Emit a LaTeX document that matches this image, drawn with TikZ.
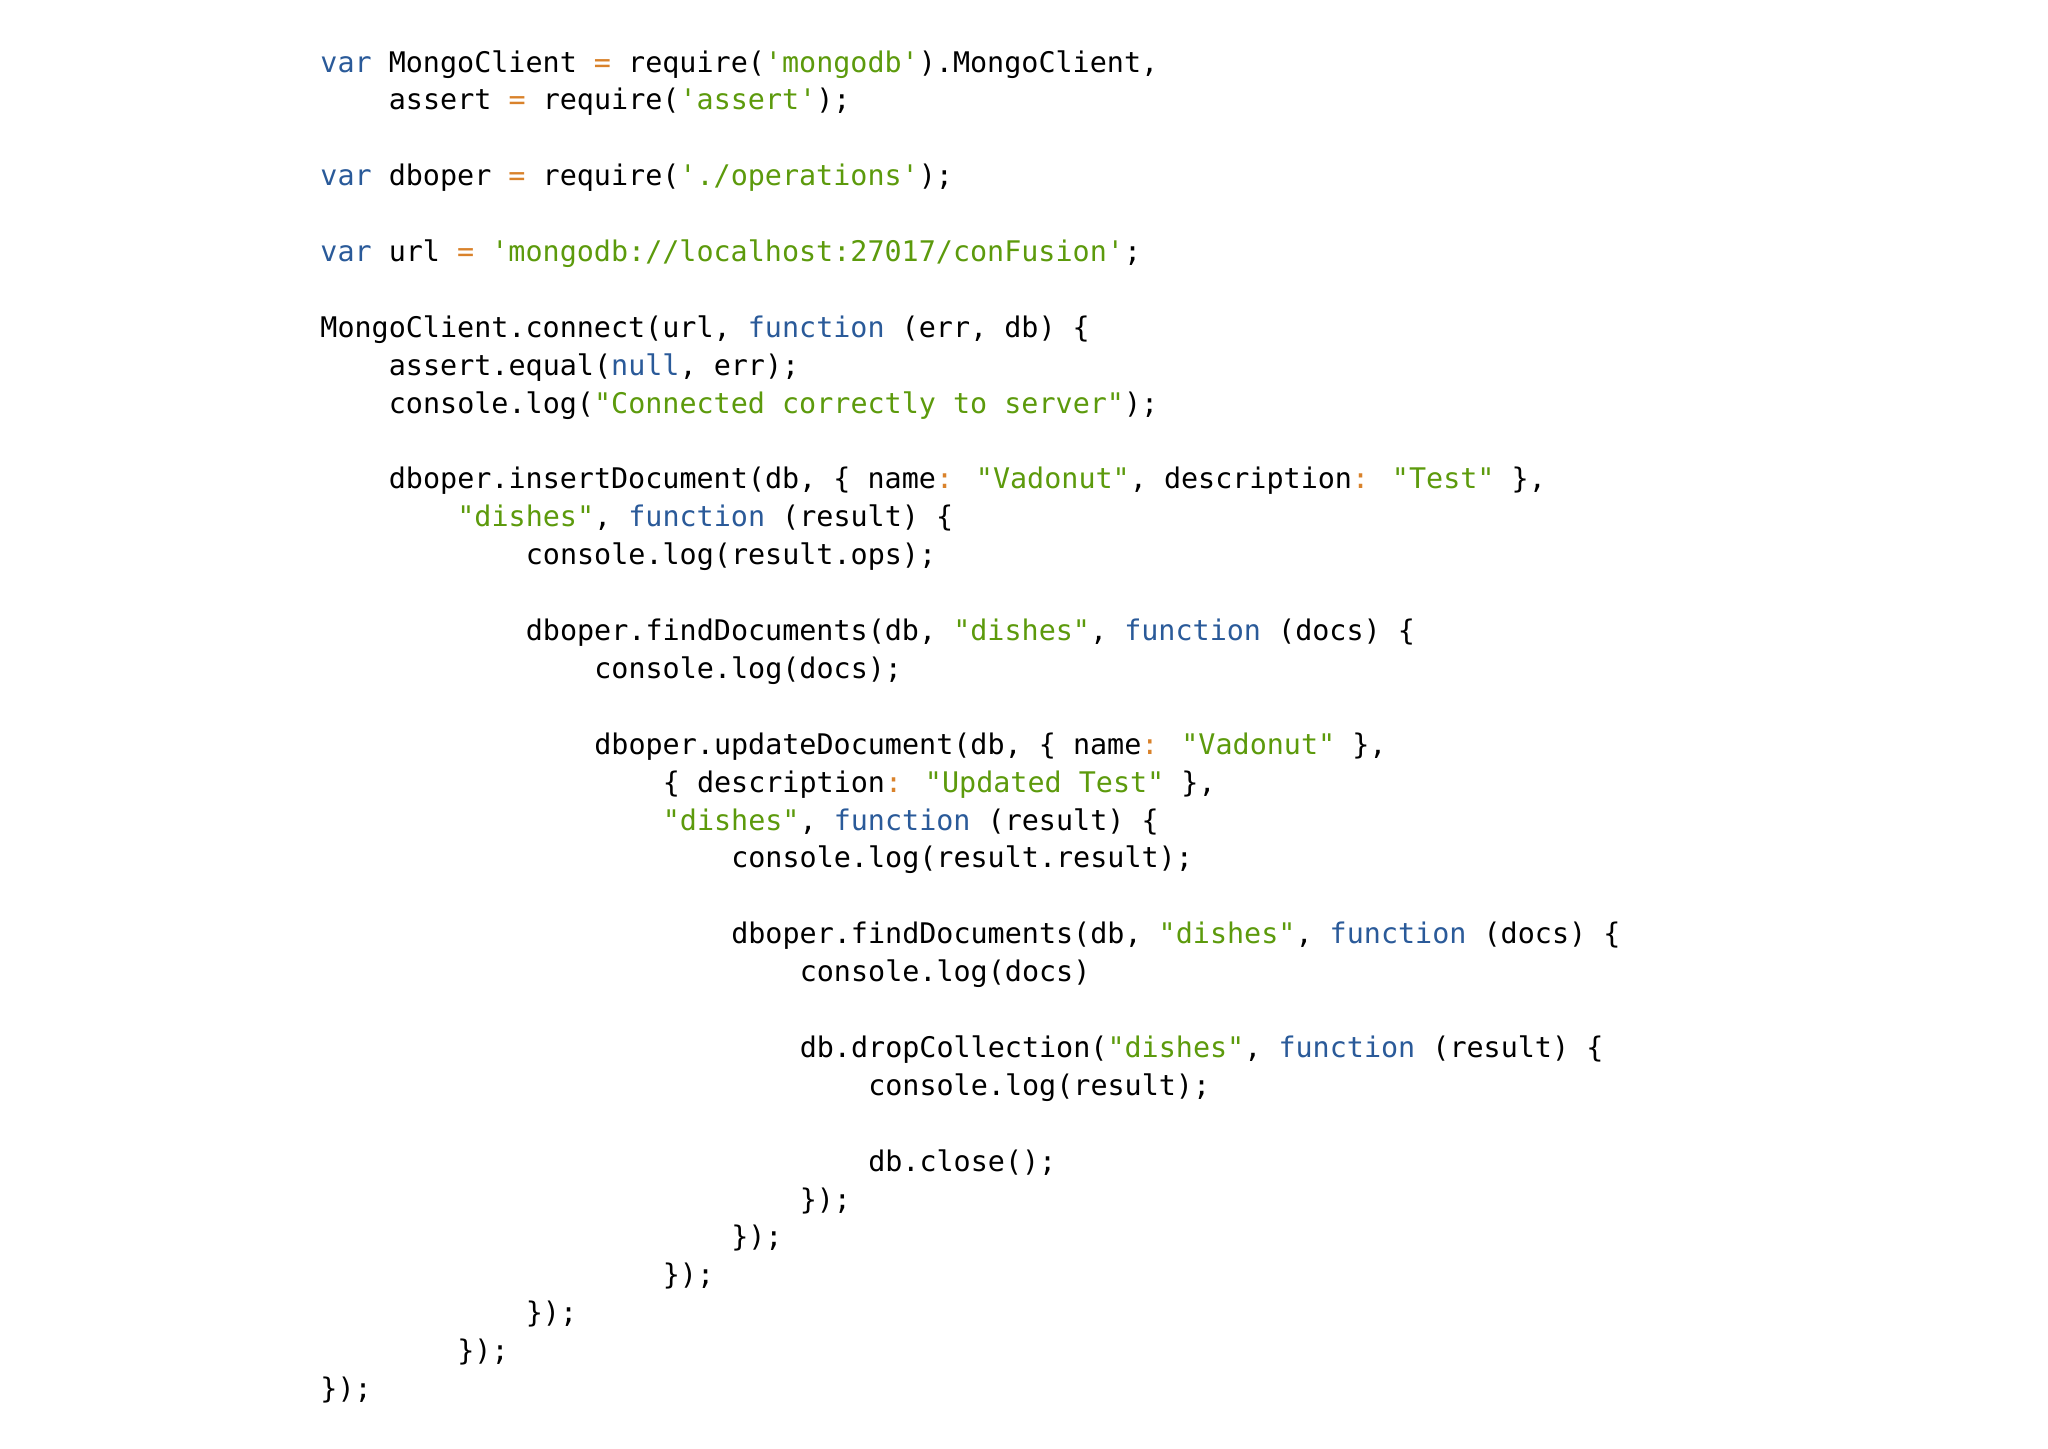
\documentclass[tikz,border=0pt]{standalone}
\usepackage{fontspec}
\newfontfamily\code{DejaVu Sans Mono}
\definecolor{kwc}{HTML}{2A5A99}
\definecolor{stc}{HTML}{5C9A0C}
\definecolor{opc}{HTML}{D9822B}
\newcommand{\kw}[1]{\textcolor{kwc}{#1}}
\newcommand{\st}[1]{\textcolor{stc}{#1}}
\newcommand{\op}[1]{\textcolor{opc}{#1}}
\begin{document}
\begin{tikzpicture}[x=1pt,y=1pt,
  ln/.style={anchor=base west,inner sep=0pt,font=\code\fontsize{14.2}{16}\selectfont}]
\useasboundingbox (0,0) rectangle (1024,-724);
\def\L#1#2#3#4{\node[ln] (#1) at ({160+#3*8.56},{-36-#2*18.95}) {#4};}
\L{a}{0}{0}{\kw{var} MongoClient \op{=} require(\st{'mongodb'}).MongoClient,}
\L{b}{1}{4}{assert \op{=} require(\st{'assert'});}
\L{c}{3}{0}{\kw{var} dboper \op{=} require(\st{'./operations'});}
\L{d}{5}{0}{\kw{var} url \op{=} \st{'mongodb://localhost:27017/conFusion'};}
\L{e}{7}{0}{MongoClient.connect(url, \kw{function} (err, db) \{}
\L{f}{8}{4}{assert.equal(\kw{null}, err);}
\L{g}{9}{4}{console.log(\st{"Connected correctly to server"});}
\L{h}{11}{4}{dboper.insertDocument(db, \{ name\op{:} \st{"Vadonut"}, description\op{:} \st{"Test"} \},}
\L{i}{12}{8}{\st{"dishes"}, \kw{function} (result) \{}
\L{j}{13}{12}{console.log(result.ops);}
\L{k}{15}{12}{dboper.findDocuments(db, \st{"dishes"}, \kw{function} (docs) \{}
\L{l}{16}{16}{console.log(docs);}
\L{m}{18}{16}{dboper.updateDocument(db, \{ name\op{:} \st{"Vadonut"} \},}
\L{n}{19}{20}{\{ description\op{:} \st{"Updated Test"} \},}
\L{o}{20}{20}{\st{"dishes"}, \kw{function} (result) \{}
\L{p}{21}{24}{console.log(result.result);}
\L{q}{23}{24}{dboper.findDocuments(db, \st{"dishes"}, \kw{function} (docs) \{}
\L{r}{24}{28}{console.log(docs)}
\L{s}{26}{28}{db.dropCollection(\st{"dishes"}, \kw{function} (result) \{}
\L{t}{27}{32}{console.log(result);}
\L{u}{29}{32}{db.close();}
\L{v}{30}{28}{\});}
\L{w}{31}{24}{\});}
\L{x}{32}{20}{\});}
\L{y}{33}{12}{\});}
\L{z}{34}{8}{\});}
\L{zz}{35}{0}{\});}
\end{tikzpicture}
\end{document}
